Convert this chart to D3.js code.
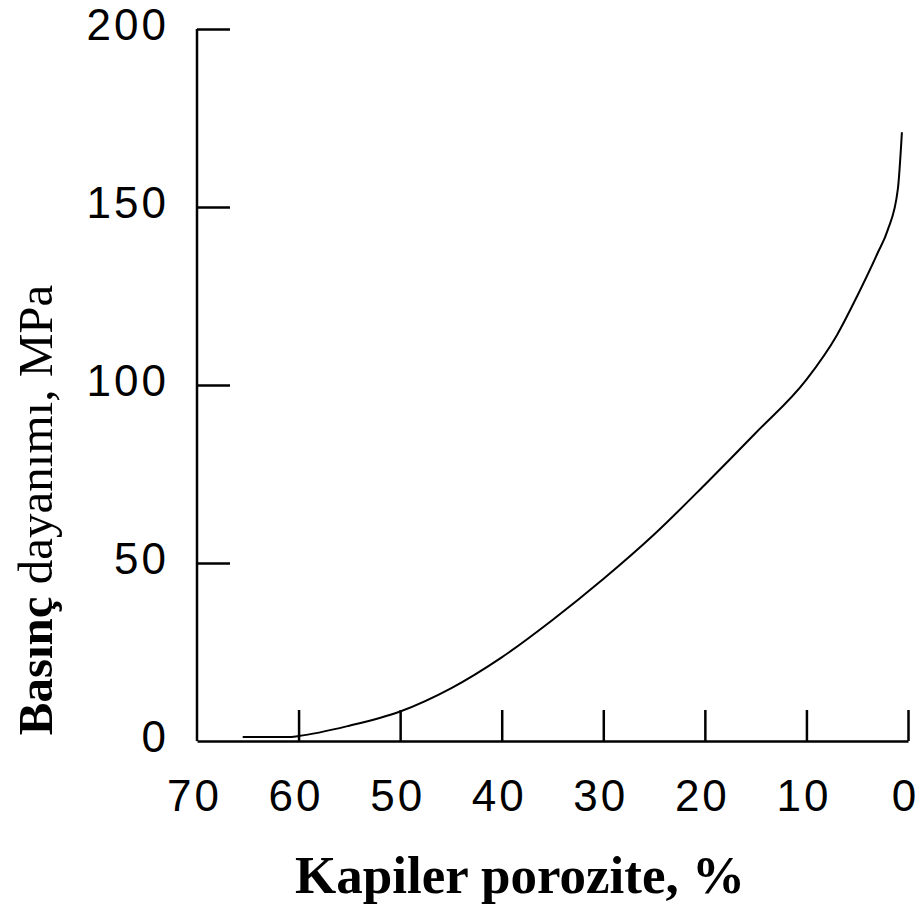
<!DOCTYPE html>
<html>
<head>
<meta charset="utf-8">
<script src="https://cdn.jsdelivr.net/npm/d3@7"></script>
<style>
  body { margin: 0; background: #fff; }
  .axis path, .axis line { stroke: #000; stroke-width: 2.5; }
  .axis text { font-family: "Liberation Sans", Arial, sans-serif; font-size: 44px; letter-spacing: 3px; fill: #000; }
</style>
</head>
<body>
<div id="chart"></div>
<script>
// values
var porosity = [65.5, 61, 60, 55, 50, 45, 40, 35, 30, 25, 20, 15, 10, 7, 5, 3, 2, 1, 0.6];
var strength = [1.1, 1.1, 1.4, 4.3, 8.3, 14.8, 23.5, 34, 45.5, 58, 72, 86.5, 101.5, 114, 125, 137, 143.5, 155, 171];
var xTicks = [70, 60, 50, 40, 30, 20, 10, 0];
var yTicks = [0, 50, 100, 150, 200];

// set dimensions and margins of graph
var margin = {top: 29, right: 12, bottom: 172, left: 197},
    width = 920 - margin.left - margin.right,
    height = 913 - margin.top - margin.bottom;

var svg = d3.select("#chart")
  .append("svg")
    .attr("width", 920)
    .attr("height", 913)
  .append("g")
    .attr("transform", "translate(" + margin.left + "," + margin.top + ")");

var x = d3.scaleLinear()
  .domain([70, 0])
  .range([0, width]);

var y = d3.scaleLinear()
  .domain([0, 200])
  .range([height, 0]);

// X axis, ticks pointing up
var gx = svg.append("g")
  .attr("class", "axis")
  .attr("transform", "translate(0," + height + ")")
  .call(d3.axisBottom(x).tickValues(xTicks).tickSizeInner(-31).tickSizeOuter(0).tickPadding(39));
gx.selectAll(".tick text").attr("dx", "-3");
gx.selectAll(".tick").filter(function(d) { return d === 70; }).select("line").remove();

// Y axis, ticks pointing right
var gy = svg.append("g")
  .attr("class", "axis")
  .call(d3.axisLeft(y).tickValues(yTicks).tickSizeInner(-33).tickSizeOuter(0).tickPadding(28));
gy.selectAll(".tick text").attr("dy", "0.24em");
gy.selectAll(".tick").filter(function(d) { return d === 0; }).select("line").remove();
gy.select(".domain").attr("d", "M0," + height + "V0");

// the curve
var pts = porosity.map(function(p, i) { return [p, strength[i]]; });
var line = d3.line()
  .x(function(d) { return x(d[0]); })
  .y(function(d) { return y(d[1]); })
  .curve(d3.curveMonotoneX);

svg.append("path")
  .datum(pts)
  .attr("d", line)
  .style("fill", "none")
  .style("stroke", "#000")
  .style("stroke-width", 2);

// axis titles
svg.append("text")
  .attr("x", 520 - margin.left)
  .attr("y", 893 - margin.top)
  .attr("text-anchor", "middle")
  .style("font-family", "'Liberation Serif', 'Times New Roman', serif")
  .style("font-weight", "bold")
  .style("font-size", "53px")
  .text("Kapiler porozite, %");

var yt = svg.append("text")
  .attr("transform", "translate(" + (52 - margin.left) + "," + (510 - margin.top) + ") rotate(-90)")
  .attr("text-anchor", "middle")
  .style("font-family", "'Liberation Serif', 'Times New Roman', serif")
  .style("font-size", "49px");
yt.append("tspan").style("font-weight", "bold").text("Basınç ");
yt.append("tspan").text("dayanımı, MPa");

console.log("chart done");
</script>
</body>
</html>
